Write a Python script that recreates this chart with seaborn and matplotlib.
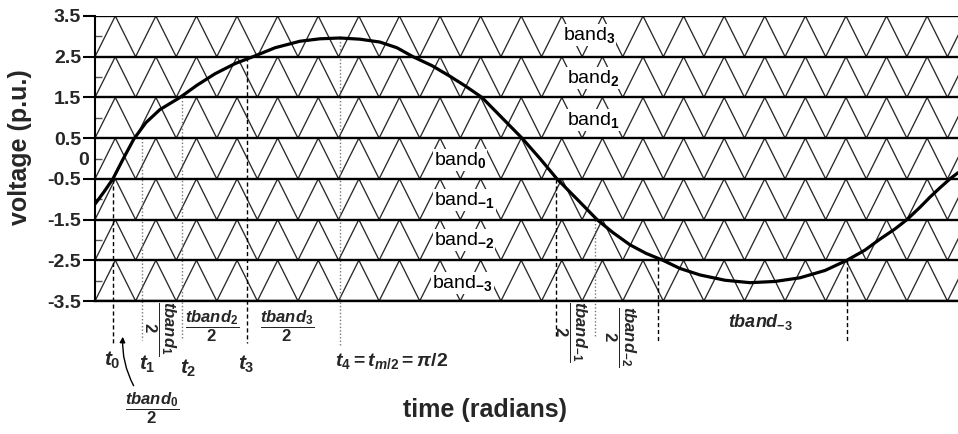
import numpy as np
import pandas as pd
import matplotlib
matplotlib.use("Agg")
import matplotlib.pyplot as plt
import seaborn as sns

# ---- data -------------------------------------------------------------
# reference (modulating) voltage, read along the time axis (radians)
ref_time = [-0.288, -0.220, -0.152, -0.076, 0.007, 0.098, 0.204, 0.357,
            0.486, 0.622, 0.774, 0.926, 1.078, 1.267, 1.419, 1.571, 1.723,
            1.874, 2.003, 2.125, 2.269, 2.405, 2.527, 2.648, 2.800, 2.952,
            3.088, 3.217, 3.370, 3.521, 3.642, 3.771, 3.893, 4.021, 4.150,
            4.302, 4.492, 4.682, 4.871, 5.061, 5.251, 5.417, 5.554, 5.668,
            5.782, 5.873, 5.971, 6.047, 6.123, 6.199, 6.260]
ref_volt = [-1.12, -0.82, -0.50, -0.02, 0.48, 0.88, 1.20, 1.50,
            1.80, 2.08, 2.33, 2.52, 2.72, 2.88, 2.94, 2.96, 2.93,
            2.86, 2.72, 2.50, 2.28, 2.02, 1.77, 1.50, 1.00, 0.50,
            0.00, -0.50, -1.00, -1.50, -1.82, -2.12, -2.33, -2.50, -2.70,
            -2.86, -2.99, -3.05, -3.02, -2.93, -2.75, -2.50, -2.25, -1.98,
            -1.73, -1.50, -1.20, -0.95, -0.72, -0.50, -0.35]

# carrier bands (lower edge of each band, 1 p.u. tall), phase disposition
band_bottoms = [2.5, 1.5, 0.5, -0.5, -1.5, -2.5, -3.5]
band_names = ["3", "2", "1", "0", "-1", "-2", "-3"]
carrier_period = 0.308          # radians
t_start, t_end = -0.288, 6.260

# voltage levels / tick labels
level_ticks = [3.5, 2.5, 1.5, 0.5, -0.5, -1.5, -2.5, -3.5]
level_labels = ["3.5", "2.5", "1.5", "0.5", "-0.5", "-1.5", "-2.5", "-3.5"]
minor_ticks = [3, 2, 1, 0, -1, -2, -3]
minor_labels = ["", "", "", "0", "", "", ""]

# switching instants: time, top of marker line, bottom of marker line, style
instant_time = [-0.152, 0.068, 0.372, 0.865, 1.571, 3.210, 3.506, 3.984, 5.417]
instant_top = [-0.50, 0.50, 1.50, 2.50, 2.96, -0.50, -1.50, -2.50, -2.50]
instant_bottom = [-4.53, -4.45, -4.45, -4.53, -4.58, -4.40, -4.35, -4.53, -4.53]
instant_dark = [True, False, False, True, False, True, False, True, True]

# ---- style ------------------------------------------------------------
sns.set_theme(style="white")
plt.rcParams["font.family"] = ["Liberation Sans", "DejaVu Sans"]
plt.rcParams["mathtext.fontset"] = "custom"
plt.rcParams["mathtext.it"] = "Liberation Sans:italic:bold"
plt.rcParams["mathtext.rm"] = "Liberation Sans:bold"
plt.rcParams["mathtext.bf"] = "Liberation Sans:bold"

fig = plt.figure(figsize=(9.58, 4.34), dpi=100)
ax = fig.add_axes([95 / 958, 1 - 301 / 434, 863 / 958, 285 / 434])

# ---- triangular carriers ---------------------------------------------
n_half = int(np.ceil((t_end - t_start) / (carrier_period / 2))) + 1
vertex_t = t_start + np.arange(n_half + 1) * carrier_period / 2
rows = []
for b in band_bottoms:
    for k, t in enumerate(vertex_t):
        rows.append({"band": b, "t": t, "v": b + (k % 2)})
carriers = pd.DataFrame(rows)
sns.lineplot(data=carriers, x="t", y="v", units="band", estimator=None,
             color="#2a2a2a", linewidth=0.95, ax=ax, legend=False)

# band edges
for lv in level_ticks:
    ax.axhline(lv, color="black", linewidth=1.7, zorder=3)

# switching instant markers
for t, top, bot, dark in zip(instant_time, instant_top, instant_bottom, instant_dark):
    if dark:
        ax.plot([t, t], [top, bot], color="black", linewidth=1.0,
                linestyle=(0, (3, 2)), clip_on=False, zorder=2)
    else:
        ax.plot([t, t], [top, bot], color="#777777", linewidth=1.0,
                linestyle=(0, (1, 1.5)), clip_on=False, zorder=2)

# reference sine
ref = pd.DataFrame({"t": ref_time, "v": ref_volt})
sns.lineplot(data=ref, x="t", y="v", sort=False, color="black",
             linewidth=2.3, ax=ax, zorder=5)

# band labels
band_label_pos = [(3.263, 3.03), (3.293, 1.98), (3.293, 0.95), (2.284, -0.04),
                  (2.284, -1.02), (2.284, -2.00), (2.270, -3.06)]
for name, (tx, vy) in zip(band_names, band_label_pos):
    ax.text(tx, vy, "band$_{%s}$" % name, fontsize=14, ha="left", va="center",
            color="black", zorder=6,
            bbox=dict(facecolor="white", edgecolor="none", pad=0.5))

# ---- axes -------------------------------------------------------------
ax.set_xlim(t_start, t_end)
ax.set_ylim(-3.5, 3.5)
ax.set_xticks([])
ax.set_yticks(level_ticks, labels=level_labels)
ax.set_yticks(minor_ticks, labels=minor_labels, minor=True)
ax.tick_params(axis="y", which="major", direction="out", length=9, width=1.5,
               labelsize=14, pad=1, left=True, color="black")
ax.tick_params(axis="y", which="minor", direction="in", length=5, width=1.0,
               labelsize=14, pad=4, left=True, color="#555555")
for lbl in ax.get_yticklabels() + ax.get_yticklabels(minor=True):
    lbl.set_fontweight("bold")
for side in ["top", "right"]:
    ax.spines[side].set_visible(False)
ax.spines["left"].set_linewidth(1.5)
ax.spines["left"].set_color("black")
ax.spines["bottom"].set_linewidth(1.7)
ax.spines["bottom"].set_color("black")

ax.set_ylabel("voltage (p.u.)", fontsize=18, fontweight="bold")
ax.yaxis.set_label_coords(-0.073, 0.539)
ax.set_xlabel("time (radians)", fontsize=18, fontweight="bold")
ax.xaxis.set_label_coords(0.452, -0.340)

# ---- annotations below the time axis ----------------------------------
kw = dict(fontsize=15, ha="center", va="center", clip_on=False)
ax.text(-0.159, -4.95, r"$t_0$", **kw)
ax.text(0.106, -5.05, r"$t_1$", **kw)
ax.text(0.417, -5.15, r"$t_2$", **kw)
ax.text(0.857, -5.05, r"$t_3$", **kw)
ax.text(1.533, -4.98, r"$t_4 = t_{m/2} = \pi/2$", fontsize=14, ha="left",
        va="center", clip_on=False)

fkw = dict(fontsize=12, ha="center", va="center", clip_on=False)
ax.text(0.144, -6.12, r"$\dfrac{tband_0}{2}$", **fkw)
ax.text(0.205, -4.16, r"$\dfrac{tband_1}{2}$", rotation=-90, **fkw)
ax.text(0.600, -4.11, r"$\dfrac{tband_2}{2}$", **fkw)
ax.text(1.169, -4.11, r"$\dfrac{tband_3}{2}$", **fkw)
ax.text(3.323, -4.26, r"$\dfrac{tband_{-1}}{2}$", rotation=-90, **fkw)
ax.text(3.695, -4.38, r"$\dfrac{tband_{-2}}{2}$", rotation=-90, **fkw)
ax.text(4.758, -4.02, r"$tband_{-3}$", fontsize=13, ha="center", va="center",
        clip_on=False)

ax.annotate("", xy=(-0.076, -4.31), xytext=(0.015, -5.64),
            arrowprops=dict(arrowstyle="-|>", color="black", lw=1.0,
                            mutation_scale=8,
                            connectionstyle="arc3,rad=-0.15"),
            annotation_clip=False)

fig.savefig("out.png", dpi=100)
